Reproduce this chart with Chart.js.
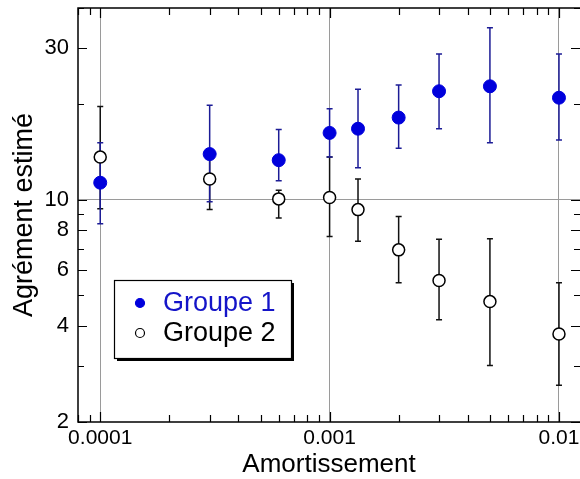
<!DOCTYPE html>
<html>
<head>
<meta charset="utf-8">
<script src="https://cdn.jsdelivr.net/npm/chart.js@4/dist/chart.umd.min.js"></script>
<style>
  html, body { margin: 0; padding: 0; background: #fff; }
</style>
</head>
<body>
<canvas id="chart" width="580" height="479"></canvas>
<script>
// valeurs
const amortissement = [0.0001, 0.0003, 0.0006, 0.001, 0.00133, 0.002, 0.003, 0.005, 0.01];

const groupe1 = [11.3, 13.9, 13.3, 16.2, 16.7, 18.1, 21.9, 22.7, 20.9];
const groupe1Bas = [8.4, 9.85, 11.45, 13.6, 12.6, 14.5, 16.7, 15.1, 15.4];
const groupe1Haut = [15.1, 19.8, 16.6, 19.3, 22.2, 22.9, 28.7, 34.7, 28.7];

const groupe2 = [13.6, 11.6, 10.05, 10.15, 9.3, 6.95, 5.57, 4.78, 3.78];
const groupe2Bas = [9.35, 9.3, 8.76, 7.65, 7.4, 5.48, 4.19, 3.01, 2.61];
const groupe2Haut = [19.6, 13.8, 10.7, 13.6, 11.6, 8.84, 7.51, 7.53, 5.48];

const xTickValues = [1e-4, 1e-3, 1e-2];
const xTickLabels = ['0.0001', '0.001', '0.01'];
const yTickValues = [2, 4, 6, 8, 10, 30];
const yTickLabels = ['2', '4', '6', '8', '10', '30'];

const FONT = 'Arial, "Liberation Sans", sans-serif';
const BLUE = '#0000dc';

// graduations mineures 1..9 x 10^n
const logTicks = (min, max) => {
    const out = [];
    for (let e = Math.floor(Math.log10(min)); e <= Math.ceil(Math.log10(max)); e++) {
        for (let k = 1; k <= 9; k++) {
            const v = +(k * Math.pow(10, e)).toPrecision(6);
            if (v >= min * 0.999 && v <= max * 1.001) out.push(v);
        }
    }
    return out;
};
const same = (a, b) => Math.abs(a - b) <= Math.abs(b) * 1e-6;
const isDecade = v => same(Math.log10(v), Math.round(Math.log10(v)));
const labelFor = (values, labels) => v => {
    const i = values.findIndex(t => same(v, t));
    return i >= 0 ? labels[i] : '';
};
// pas de marge auto autour de la zone de tracé
const noPadding = s => { s.paddingTop = s.paddingBottom = s.paddingLeft = s.paddingRight = 0; };

const makePoints = ys => amortissement.map((x, i) => ({ x: x, y: ys[i] }));

const errorBars = {
    id: 'errorBars',
    beforeDatasetsDraw(chart) {
        const { ctx, scales: { x, y } } = chart;
        ctx.save();
        for (let d = chart.data.datasets.length - 1; d >= 0; d--) {
            const ds = chart.data.datasets[d];
            ctx.strokeStyle = ds.barColor;
            ctx.lineWidth = 1.5;
            amortissement.forEach((v, i) => {
                const px = x.getPixelForValue(v);
                const lo = y.getPixelForValue(ds.low[i]);
                const hi = y.getPixelForValue(ds.high[i]);
                ctx.beginPath();
                ctx.moveTo(px, lo); ctx.lineTo(px, hi);
                ctx.moveTo(px - 3, lo); ctx.lineTo(px + 3, lo);
                ctx.moveTo(px - 3, hi); ctx.lineTo(px + 3, hi);
                ctx.stroke();
            });
        }
        ctx.restore();
    }
};

// cadre (le bord droit tombe hors de l'image) + graduations vers l'intérieur
const frame = {
    id: 'frame',
    beforeDatasetsDraw(chart) {
        const { ctx, chartArea: a, scales: { x, y } } = chart;
        ctx.save();
        ctx.strokeStyle = '#000';
        ctx.lineWidth = 1.5;
        ctx.beginPath();
        ctx.moveTo(a.right, a.top); ctx.lineTo(a.left, a.top);
        ctx.lineTo(a.left, a.bottom); ctx.lineTo(a.right, a.bottom);
        ctx.stroke();
        ctx.lineWidth = 1.2;
        ctx.beginPath();
        x.ticks.forEach(t => {
            const px = Math.round(x.getPixelForValue(t.value)) + 0.5;
            const len = xTickValues.some(v => same(t.value, v)) ? 10 : 7;
            ctx.moveTo(px, a.bottom); ctx.lineTo(px, a.bottom - len);
            ctx.moveTo(px, a.top); ctx.lineTo(px, a.top + len);
        });
        y.ticks.forEach(t => {
            const py = Math.round(y.getPixelForValue(t.value)) + 0.5;
            const len = yTickValues.some(v => same(t.value, v)) ? 9 : 6;
            ctx.moveTo(a.left, py); ctx.lineTo(a.left + len, py);
            ctx.moveTo(a.right, py); ctx.lineTo(a.right - len, py);
        });
        ctx.stroke();
        ctx.restore();
    }
};

const boxLegend = {
    id: 'boxLegend',
    afterDatasetsDraw(chart) {
        const { ctx } = chart;
        const bx = 114, by = 280, bw = 177, bh = 78;
        ctx.save();
        ctx.fillStyle = '#000';
        ctx.fillRect(bx + 3, by + 3, bw, bh);
        ctx.fillStyle = '#fff';
        ctx.fillRect(bx, by, bw, bh);
        ctx.strokeStyle = '#000';
        ctx.lineWidth = 1.2;
        ctx.strokeRect(bx + 0.5, by + 0.5, bw, bh);
        ctx.font = '27px ' + FONT;
        ctx.textBaseline = 'middle';
        chart.data.datasets.forEach((ds, i) => {
            const cy = by + 23 + i * 30;
            ctx.beginPath();
            ctx.arc(bx + 26, cy, 4.5, 0, Math.PI * 2);
            ctx.fillStyle = ds.backgroundColor;
            ctx.fill();
            ctx.lineWidth = 1.2;
            ctx.strokeStyle = ds.borderColor;
            ctx.stroke();
            ctx.fillStyle = ds.textColor;
            ctx.fillText(ds.label, bx + 49, cy + 1);
        });
        ctx.restore();
    }
};

new Chart(document.getElementById('chart'), {
    type: 'scatter',
    data: {
        datasets: [{
            label: 'Groupe 1',
            data: makePoints(groupe1),
            low: groupe1Bas,
            high: groupe1Haut,
            backgroundColor: BLUE,
            borderColor: BLUE,
            barColor: '#1c1c96',
            textColor: '#1414c8',
            pointRadius: 6.5,
            borderWidth: 1
        }, {
            label: 'Groupe 2',
            data: makePoints(groupe2),
            low: groupe2Bas,
            high: groupe2Haut,
            backgroundColor: '#fff',
            borderColor: '#000',
            barColor: '#111',
            textColor: '#000',
            pointRadius: 6,
            borderWidth: 1.5
        }]
    },
    options: {
        responsive: false,
        animation: false,
        layout: { autoPadding: false, padding: { top: 8, right: 0, bottom: 0, left: 0 } },
        plugins: { legend: { display: false }, tooltip: { enabled: false } },
        scales: {
            x: {
                type: 'logarithmic',
                min: 8.0e-5,
                max: 0.01235,
                afterBuildTicks: s => { s.ticks = logTicks(s.min, s.max).map(v => ({ value: v })); },
                afterFit: s => { s.height = 57; noPadding(s); },
                grid: {
                    drawTicks: false,
                    color: c => (c.tick && isDecade(c.tick.value)) ? '#9a9a9a' : 'rgba(0,0,0,0)',
                    lineWidth: 1
                },
                border: { display: false },
                ticks: {
                    autoSkip: false,
                    maxRotation: 0,
                    padding: 4,
                    color: '#000',
                    font: { family: FONT, size: 21 },
                    callback: labelFor(xTickValues, xTickLabels)
                },
                title: {
                    display: true,
                    text: 'Amortissement',
                    color: '#000',
                    font: { family: FONT, size: 26, lineHeight: 1 },
                    padding: 1
                }
            },
            y: {
                type: 'logarithmic',
                min: 2,
                max: 40,
                afterBuildTicks: s => { s.ticks = logTicks(s.min, s.max).map(v => ({ value: v })); },
                afterFit: s => { s.width = 78; noPadding(s); },
                grid: {
                    drawTicks: false,
                    color: c => (c.tick && isDecade(c.tick.value)) ? '#9a9a9a' : 'rgba(0,0,0,0)',
                    lineWidth: 1
                },
                border: { display: false },
                ticks: {
                    autoSkip: false,
                    padding: 9,
                    color: '#000',
                    font: { family: FONT, size: 22 },
                    callback: labelFor(yTickValues, yTickLabels)
                },
                title: {
                    display: true,
                    text: 'Agrément estimé',
                    color: '#000',
                    font: { family: FONT, size: 27, lineHeight: 1 },
                    padding: 11
                }
            }
        }
    },
    plugins: [errorBars, frame, boxLegend]
});
</script>
</body>
</html>
